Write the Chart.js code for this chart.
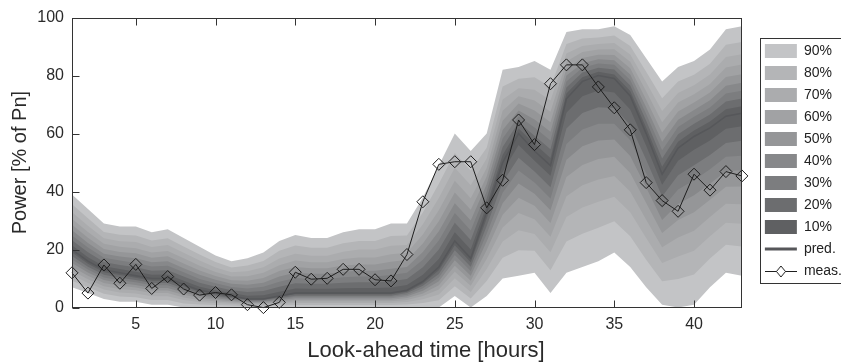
<!DOCTYPE html>
<html lang="en">
<head>
<meta charset="UTF-8">
<title>Look-ahead power forecast</title>
<script src="https://cdn.jsdelivr.net/npm/chart.js@4.4.1/dist/chart.umd.min.js"></script>
<style>
  html, body { margin: 0; padding: 0; background: #fff; }
  #wrap { width: 841px; height: 364px; }
</style>
</head>
<body>
<div id="wrap"><canvas id="grafico" width="841" height="364"></canvas></div>
<script>
// look-ahead hours
const horas = [1,2,3,4,5,6,7,8,9,10,11,12,13,14,15,16,17,18,19,20,21,22,23,24,25,26,27,28,29,30,31,32,33,34,35,36,37,38,39,40,41,42,43];
const xTicks = [5,10,15,20,25,30,35,40];
const yTicks = [0,20,40,60,80,100];

// measured power
const meas = [12,5,14.7,8.4,14.9,6.6,10.7,6.4,4.3,5.2, 4.4,1,0,1.8,12.2,9.8,10.1,13.2,13.2,9.6, 9.2,18.3,36.5,49.4,50.3,50.3,34.4,43.9,64.7,56.2, 77.2,83.7,83.7,76.1,68.9,61.3,43.1,36.9,33.2,46, 40.5,46.9,45.4];

// quantiles of the forecast (q50 = pred.)
const q95 = [39,34,29,28,28,26,27,24,21,18, 16,17,19,23,25,24,24,26,27,27, 29,29,38,49,60,54,60,82,83,85, 82,95,96,96,97,94,86,78,83,85, 89,96,97];
const q90 = [35.6,30.8,26.1,25.1,24.9,23.1,23.9,21.1,18.3,15.7, 13.8,14.5,16.1,19.6,21.4,20.6,20.6,22.2,23,23, 24.7,24.9,32.8,42.7,53.3,47.3,55.1,76.2,78.9,79.4, 76.1,90.9,92.8,93.1,93.8,90.2,81.3,72.2,78,80.3, 84.1,90.6,91.6];
const q85 = [32.9,28.2,23.9,22.9,22.6,20.9,21.6,18.9,16.2,13.8, 12.2,12.5,13.9,16.9,18.6,17.9,17.9,19.3,20,20, 21.3,21.6,28.7,37.8,48.2,42.2,51.4,71.8,75.6,75.1, 71.4,87.6,90.2,90.9,91.2,87.3,77.7,67.8,74,76.7, 80.4,86.4,87.4];
const q80 = [30.6,26.1,22,21,20.5,19,19.5,17,14.4,12.3, 10.7,10.8,12,14.6,16.2,15.6,15.6,16.8,17.3,17.3, 18.4,18.9,25.2,33.6,43.7,37.7,48.1,67.9,72.9,71.4, 67.5,84.9,88.1,89,89.1,84.8,74.6,63.9,70.7,73.6, 77.1,82.8,83.8];
const q75 = [28.6,24.1,20.2,19.2,18.7,17.2,17.7,15.2,12.8,10.9, 9.4,9.3,10.2,12.6,14,13.6,13.6,14.5,14.9,14.9, 15.8,16.4,22.1,29.8,39.7,33.7,45.2,64.4,70.4,68, 63.9,82.4,86.1,87.2,87.1,82.5,71.7,60.4,67.6,70.7, 74.2,79.5,80.5];
const q70 = [26.7,22.3,18.6,17.6,17,15.6,16,13.6,11.3,9.6, 8.2,7.9,8.6,10.7,12,11.7,11.7,12.4,12.7,12.7, 13.4,14,19.2,26.3,36,30,42.5,61.2,68,64.9, 60.6,80,84.3,85.6,85.3,80.4,69.1,57.2,64.8,68.1, 71.5,76.5,77.5];
const q65 = [24.9,20.7,17.2,16.2,15.4,14.2,14.4,12.2,9.9,8.4, 7.1,6.6,7.2,8.9,10.2,9.9,9.9,10.5,10.7,10.7, 11.2,12,16.5,23.1,32.6,26.6,40,58.3,66,62.1, 57.6,78,82.7,84.2,83.7,78.5,66.8,54.3,62.3,65.8, 69,73.8,74.8];
const q60 = [23.2,19.1,15.7,14.7,13.9,12.7,12.9,10.7,8.6,7.2, 6,5.4,5.7,7.2,8.4,8.2,8.2,8.6,8.7,8.7, 9.1,9.9,13.9,20,29.3,23.3,37.6,55.4,63.9,59.3, 54.6,75.9,81.1,82.7,82.1,76.6,64.4,51.4,59.8,63.4, 66.6,71.1,72.1];
const q55 = [21.5,17.4,14.3,13.3,12.4,11.3,11.4,9.3,7.2,6, 5,4.1,4.3,5.5,6.6,6.5,6.5,6.7,6.8,6.8, 6.9,7.8,11.3,16.8,26,20,35.2,52.6,61.8,56.5, 51.6,73.8,79.4,81.3,80.4,74.7,62.1,48.6,57.2,61.1, 64.2,68.4,69.4];
const q50 = [20,16,13,12,11,10,10,8,6,5, 4,3,3,4,5,5,5,5,5,5, 5,6,9,14,23,17,33,50,60,54, 49,72,78,80,79,73,60,46,55,59, 62,66,67];
const q45 = [19,15.1,12.2,11.2,10.3,9.3,9.3,7.4,5.5,4.6, 3.7,2.8,2.8,3.7,4.6,4.6,4.6,4.6,4.6,4.6, 4.6,5.5,8.3,12.9,21.5,15.6,30.7,46.8,56.1,50.6, 45.5,67.2,72.9,74.9,74.2,68.3,55.8,42.4,50.6,54.4, 57.6,61.7,62.5];
const q40 = [17.8,14.1,11.3,10.3,9.5,8.5,8.5,6.6,5,4.1, 3.3,2.5,2.5,3.3,4.1,4.1,4.1,4.1,4.1,4.1, 4.1,5,7.5,11.6,19.8,14.1,28.1,43.2,51.7,46.9, 41.5,61.8,67.1,69.1,68.8,63,51,38.3,45.6,49.1, 52.6,56.8,57.5];
const q35 = [16.6,13.1,10.4,9.4,8.7,7.7,7.7,5.9,4.4,3.7, 3,2.2,2.2,3,3.7,3.7,3.7,3.7,3.7,3.7, 3.7,4.4,6.7,10.4,18.1,12.6,25.5,39.6,47.3,43.1, 37.6,56.4,61.4,63.4,63.4,57.7,46.2,34.3,40.7,43.9, 47.7,52,52.4];
const q30 = [15.4,12.1,9.5,8.5,7.8,6.8,6.8,5.2,3.9,3.2, 2.6,2,2,2.6,3.2,3.2,3.2,3.2,3.2,3.2, 3.2,3.9,5.8,9.1,16.3,11,22.8,36,42.8,39.3, 33.6,51,55.6,57.6,58,52.3,41.4,30.2,35.7,38.7, 42.7,47.1,47.4];
const q25 = [14.1,11,8.5,7.5,6.9,5.9,5.9,4.4,3.3,2.7, 2.2,1.6,1.6,2.2,2.7,2.7,2.7,2.7,2.7,2.7, 2.7,3.3,4.9,7.7,14.4,9.3,19.9,32,37.9,35.1, 29.2,45,49.2,51.2,52,46.4,36.1,25.7,30.2,32.9, 37.2,41.7,41.8];
const q20 = [12.7,9.8,7.4,6.4,6,5,5,3.5,2.6,2.2, 1.8,1.3,1.3,1.8,2.2,2.2,2.2,2.2,2.2,2.2, 2.2,2.6,4,6.2,12.4,7.5,16.8,27.6,32.6,30.5, 24.4,38.4,42.2,44.2,45.4,40,30.3,20.8,24.2,26.5, 31.2,35.8,35.6];
const q15 = [11.2,8.5,6.2,5.2,4.9,3.9,3.9,2.6,1.9,1.6, 1.3,1,1,1.3,1.6,1.6,1.6,1.6,1.6,1.6, 1.6,1.9,2.9,4.5,10.1,5.4,13.3,22.8,26.7,25.4, 19.1,31.2,34.5,36.5,38.2,32.9,24,15.4,17.6,19.6, 24.6,29.3,28.9];
const q10 = [9.3,7,4.8,3.8,3.6,2.6,2.6,1.4,1.1,0.9, 0.7,0.5,0.5,0.7,0.9,0.9,0.9,0.9,0.9,0.9, 0.9,1.1,1.6,2.5,7.4,3.1,9.2,17.2,19.8,19.6, 12.9,22.8,25.5,27.5,29.8,24.6,16.5,9.1,9.9,11.4, 16.9,21.7,21.1];
const q05 = [7,5,3,2,2,1,1,0,0,0, 0,0,0,0,0,0,0,0,0,0, 0,0,0,0,4,0,4,10,11,12, 5,12,14,16,19,14,7,1,0,1, 7,12,11];

// bands, outer to inner
const niveis = ['90%','80%','70%','60%','50%','40%','30%','20%','10%'];
const limSup = [q95, q90, q85, q80, q75, q70, q65, q60, q55];
const limInf = [q05, q10, q15, q20, q25, q30, q35, q40, q45];
const coresFaixa = ['#c3c4c6','#b4b5b7','#abacae','#a1a2a4','#959698','#87888a','#7c7d7f','#6c6d6f','#5f6062'];
const corPred = '#56575a';
const corMeas = '#1e1e1e';

const fonte = "'Liberation Sans', Arial, Helvetica, sans-serif";
Chart.defaults.font.family = fonte;
Chart.defaults.color = '#2a2a2a';

const pontos = valores => horas.map((h, i) => ({x: h, y: valores[i]}));

const datasets = [];
datasets.push({
    label: 'meas.', data: pontos(meas), borderColor: corMeas, borderWidth: 1,
    pointStyle: 'rectRot', pointRadius: 6, pointBorderColor: corMeas, pointBorderWidth: 1,
    pointBackgroundColor: 'rgba(0,0,0,0)', fill: false, clip: false
});
datasets.push({
    label: 'pred.', data: pontos(q50), borderColor: corPred, borderWidth: 1.5,
    pointRadius: 0, fill: false
});
// inner band first so that it is drawn last (on top)
for (let k = niveis.length - 1; k >= 0; k--) {
    const idx = datasets.length;
    datasets.push({
        label: niveis[k], data: pontos(limSup[k]), borderWidth: 0, borderColor: 'rgba(0,0,0,0)',
        backgroundColor: coresFaixa[k], pointRadius: 0, fill: {target: idx + 1}
    });
    datasets.push({
        label: niveis[k] + ' inf', data: pontos(limInf[k]), borderWidth: 0, borderColor: 'rgba(0,0,0,0)',
        pointRadius: 0, fill: false
    });
}

// legend icon for the measured series: line with a diamond
const iconeMeas = document.createElement('canvas');
iconeMeas.width = 32; iconeMeas.height = 14;
(function () {
    const c = iconeMeas.getContext('2d');
    c.strokeStyle = corMeas; c.lineWidth = 1;
    c.beginPath(); c.moveTo(0, 7.5); c.lineTo(32, 7.5); c.stroke();
    c.beginPath(); c.moveTo(16, 2); c.lineTo(20.5, 7.5); c.lineTo(16, 13); c.lineTo(11.5, 7.5); c.closePath();
    c.fillStyle = '#fff'; c.fill(); c.stroke();
})();

const moldura = {
    id: 'moldura',
    afterDatasetsDraw(chart) {
        const {ctx, chartArea: a, scales} = chart;
        const L = Math.round(a.left) + 0.5, R = Math.round(a.right) - 0.5;
        const T = Math.round(a.top) + 0.5, B = Math.round(a.bottom) - 0.5;
        ctx.save();
        ctx.strokeStyle = '#333';
        ctx.lineWidth = 1;
        ctx.strokeRect(L, T, R - L, B - T);
        ctx.beginPath();
        scales.x.ticks.forEach(t => {
            const px = Math.round(scales.x.getPixelForValue(t.value)) + 0.5;
            ctx.moveTo(px, T); ctx.lineTo(px, T + 7);
            ctx.moveTo(px, B); ctx.lineTo(px, B - 7);
        });
        scales.y.ticks.forEach(t => {
            const py = Math.round(scales.y.getPixelForValue(t.value)) + 0.5;
            ctx.moveTo(L, py); ctx.lineTo(L + 7, py);
        });
        ctx.stroke();
        ctx.restore();
    },
    afterDraw(chart) {
        const lg = chart.legend;
        const caixas = lg.legendHitBoxes;
        if (!caixas || !caixas.length) return;
        const ult = caixas[caixas.length - 1];
        const top = Math.round(caixas[0].top - 6) + 0.5;
        const bot = Math.round(ult.top + ult.height + 5) + 0.5;
        const left = Math.round(lg.left + 3) + 0.5;
        const ctx = chart.ctx;
        ctx.save();
        ctx.strokeStyle = '#333';
        ctx.lineWidth = 1;
        ctx.strokeRect(left, top, chart.width + 5 - left, bot - top);
        ctx.restore();
    }
};

new Chart(document.getElementById('grafico'), {
    type: 'line',
    data: { datasets: datasets },
    options: {
        responsive: false,
        animation: false,
        devicePixelRatio: 1,
        layout: { padding: { top: 15, right: -11, bottom: 0, left: 0 } },
        elements: { line: { tension: 0 } },
        plugins: {
            tooltip: { enabled: false },
            title: {
                display: true, position: 'bottom', text: 'Look-ahead time [hours]',
                color: '#2a2a2a', font: { size: 22, weight: 'normal' }, padding: { top: 2, bottom: 0 }
            },
            legend: {
                position: 'right',
                align: 'start',
                title: { display: true, text: '', font: { size: 10 }, padding: { top: 9, bottom: 0 } },
                labels: {
                    usePointStyle: true,
                    pointStyleWidth: 32,
                    boxWidth: 32,
                    padding: 8,
                    color: '#222',
                    font: { size: 14 },
                    generateLabels: () => {
                        const itens = niveis.map((n, k) => ({
                            text: n, fillStyle: coresFaixa[k], strokeStyle: coresFaixa[k],
                            lineWidth: 0, pointStyle: 'rect', hidden: false, fontColor: '#222'
                        }));
                        itens.push({ text: 'pred.', fillStyle: corPred, strokeStyle: corPred,
                            lineWidth: 3, pointStyle: 'line', hidden: false, fontColor: '#222' });
                        itens.push({ text: 'meas.', fillStyle: '#fff', strokeStyle: corMeas,
                            lineWidth: 1, pointStyle: iconeMeas, hidden: false, fontColor: '#222' });
                        return itens;
                    }
                }
            }
        },
        scales: {
            x: {
                type: 'linear', min: 1, max: 43,
                grid: { display: false, drawTicks: false },
                border: { display: false },
                ticks: { font: { size: 16 }, color: '#2a2a2a', padding: 7 },
                afterBuildTicks: s => { s.ticks = xTicks.map(v => ({ value: v })); },
                afterFit: s => { s.height = 28; }
            },
            y: {
                min: 0, max: 100,
                grid: { display: false, drawTicks: false },
                border: { display: false },
                ticks: { font: { size: 16 }, color: '#2a2a2a', padding: 8 },
                afterBuildTicks: s => { s.ticks = yTicks.map(v => ({ value: v })); },
                afterFit: s => { s.width = 72; },
                title: { display: true, text: 'Power [% of Pn]', font: { size: 20 }, color: '#2a2a2a', padding: { top: 8, bottom: 0 } }
            },
            y2: {
                position: 'right', min: 0, max: 100,
                grid: { display: false, drawTicks: false },
                border: { display: false },
                ticks: { display: false },
                afterFit: s => { s.width = 15; }
            }
        }
    },
    plugins: [moldura]
});
</script>
</body>
</html>
